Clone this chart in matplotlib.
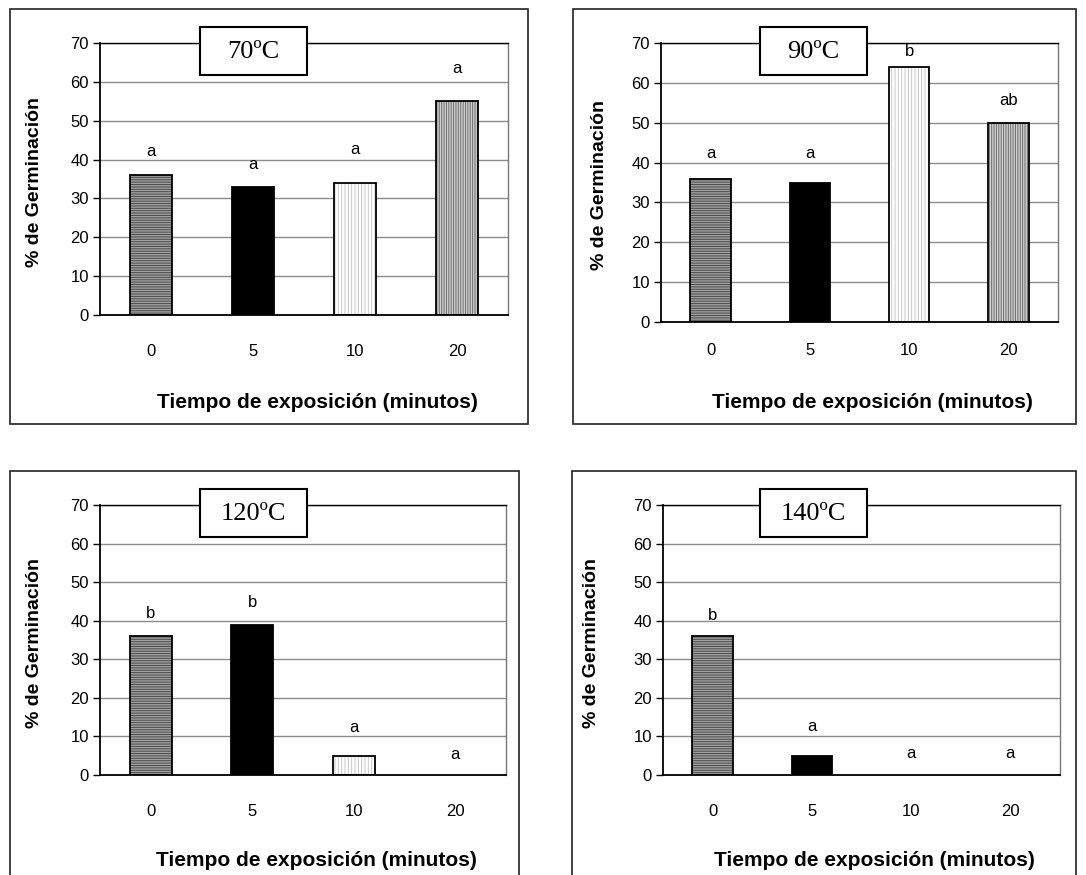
import matplotlib
matplotlib.use("Agg")
import matplotlib.pyplot as plt
from matplotlib.patches import Rectangle

plt.rcParams['font.family'] = ['Liberation Sans', 'DejaVu Sans']
plt.rcParams['hatch.linewidth'] = 0.7

# ---- data ----
categories = ["0", "5", "10", "20"]
titles = ["70ºC", "90ºC", "120ºC", "140ºC"]
values_70 = [36, 33, 34, 55]
values_90 = [36, 35, 64, 50]
values_120 = [36, 39, 5, 0]
values_140 = [36, 5, 0, 0]
letters_70 = ["a", "a", "a", "a"]
letters_90 = ["a", "a", "b", "ab"]
letters_120 = ["b", "b", "a", "a"]
letters_140 = ["b", "a", "a", "a"]
# heights (in % units) at which the significance letters sit
letter_y_70 = [42, 38.8, 42.7, 63.4]
letter_y_90 = [42.4, 42.4, 67.9, 55.5]
letter_y_120 = [41.9, 44.7, 12.3, 5.4]
letter_y_140 = [41.4, 12.5, 5.6, 5.6]
y_ticks = [0, 10, 20, 30, 40, 50, 60, 70]
xlabel = "Tiempo de exposición (minutos)"
ylabel = "% de Germinación"

W, H = 1086, 875
fig = plt.figure(figsize=(W / 100, H / 100), dpi=100)


def fx(x):
    return x / W


def fy(y):
    return 1 - y / H


# bar styles: (facecolor, hatch, hatchcolor)
styles = [
    ("#a0a0a0", "-------", "#4a4a4a"),
    ("#000000", "", "#000000"),
    ("#ffffff", "|||||", "#c8c8c8"),
    ("#d0d0d0", "|||||||", "#6a6a6a"),
]

panels = [
    dict(outer=(10, 9, 528, 424), ax=(100, 43, 508, 315), tbox=(253, 51), ylx=35,
         tpad=21, xly=402,
         vals=values_70, lets=letters_70, ly=letter_y_70, title=titles[0]),
    dict(outer=(573, 9, 1076, 424), ax=(661, 43, 1058, 322), tbox=(813, 51), ylx=600,
         tpad=15, xly=402,
         vals=values_90, lets=letters_90, ly=letter_y_90, title=titles[1]),
    dict(outer=(10, 471, 519, 880), ax=(100, 505, 506, 775), tbox=(253, 513), ylx=35,
         tpad=21, xly=860,
         vals=values_120, lets=letters_120, ly=letter_y_120, title=titles[2]),
    dict(outer=(572, 471, 1076, 880), ax=(663, 505, 1060, 775), tbox=(813, 513), ylx=592,
         tpad=21, xly=860,
         vals=values_140, lets=letters_140, ly=letter_y_140, title=titles[3]),
]

for p in panels:
    ol, ot, orr, ob = p["outer"]
    fig.add_artist(Rectangle((fx(ol), fy(ob)), fx(orr - ol), (ob - ot) / H,
                             transform=fig.transFigure, fill=False,
                             edgecolor="#222222", linewidth=1.2, zorder=0))
    al, at, ar, ab = p["ax"]
    ax = fig.add_axes([fx(al), fy(ab), fx(ar - al), (ab - at) / H])
    x = list(range(len(categories)))
    for i, v in enumerate(p["vals"]):
        fc, hatch, hc = styles[i]
        ax.bar(x[i], v, width=0.41, color=fc, edgecolor=hc, hatch=hatch,
               linewidth=0, zorder=2)
        if v > 0:
            ax.bar(x[i], v, width=0.41, fill=False, edgecolor="black",
                   linewidth=1.3, zorder=3)
        ax.text(x[i], p["ly"][i], p["lets"][i], ha="center", va="center",
                fontsize=12, zorder=4)
    ax.set_xlim(-0.5, 3.5)
    ax.set_ylim(0, 70)
    ax.set_yticks(y_ticks)
    ax.set_xticks(x)
    ax.set_xticklabels(categories, fontsize=12)
    ax.tick_params(axis="y", labelsize=12, length=5, width=1, direction="out", pad=3)
    ax.tick_params(axis="x", length=0, pad=p["tpad"])
    ax.yaxis.grid(True, color="#8c8c8c", linewidth=1)
    ax.set_axisbelow(True)
    ax.spines["right"].set_color("#777777")
    ax.spines["right"].set_linewidth(1)
    ax.spines["top"].set_color("black")
    ax.spines["top"].set_linewidth(1)
    for s in ("left", "bottom"):
        ax.spines[s].set_color("black")
        ax.spines[s].set_linewidth(1.3)
    fig.text(fx((al + ar) / 2 + 13), fy(p["xly"]), xlabel, ha="center", va="center",
             fontsize=15, fontweight="bold")
    fig.text(fx(p["ylx"]), fy((at + ab) / 2 + 3), ylabel, ha="center", va="center",
             rotation=90, fontsize=14, fontweight="bold")
    cx, cy = p["tbox"]
    bw, bh = 107, 48
    fig.add_artist(Rectangle((fx(cx - bw / 2), fy(cy + bh / 2)), fx(bw), bh / H,
                             transform=fig.transFigure, facecolor="white",
                             edgecolor="black", linewidth=1.5, zorder=5))
    fig.text(fx(cx), fy(cy + 1), p["title"], ha="center", va="center",
             fontsize=19, family="Liberation Serif", zorder=6)

fig.savefig("out.png", dpi=100)
